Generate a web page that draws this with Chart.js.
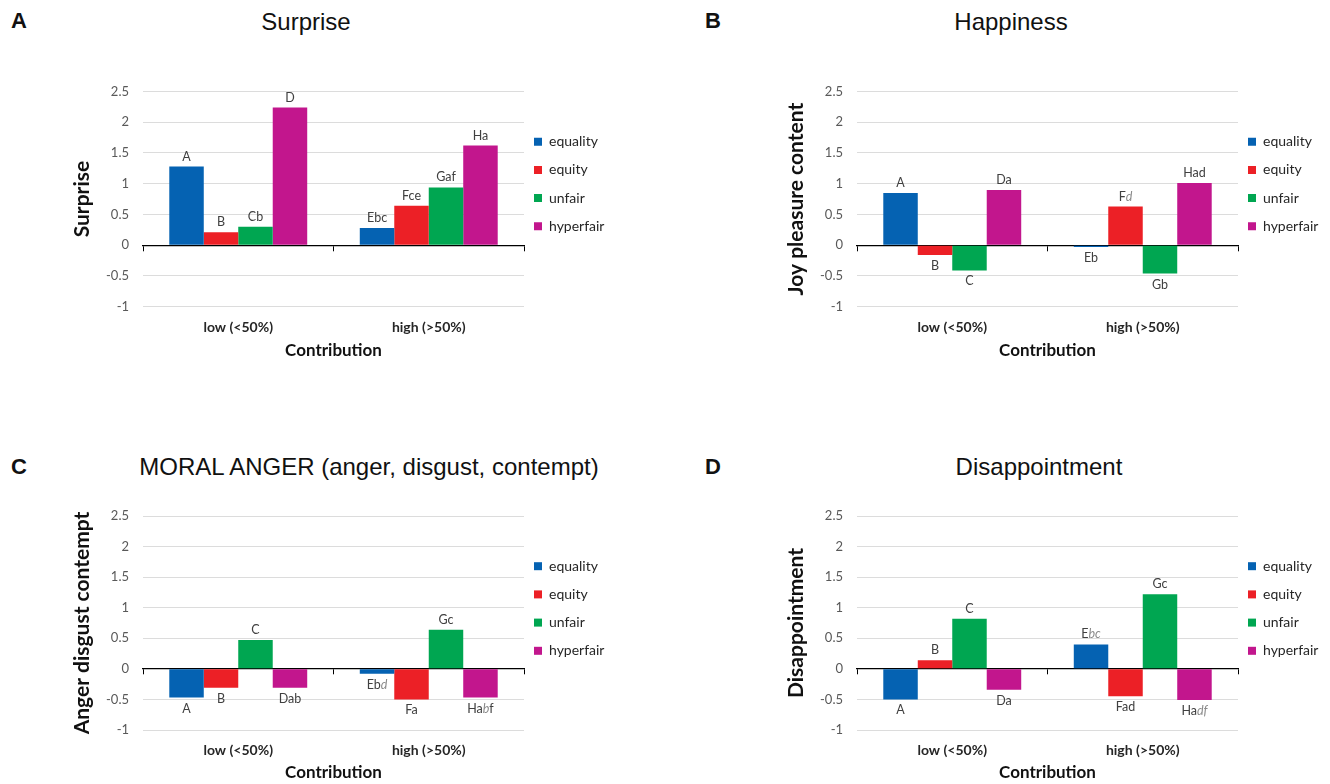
<!DOCTYPE html>
<html>
<head>
<meta charset="utf-8">
<title>Emotions by contribution and offer type</title>
<script src="https://cdn.jsdelivr.net/npm/chart.js@4.4.1/dist/chart.umd.min.js"></script>
<style>
  body { margin: 0; width: 1330px; height: 784px; overflow: hidden; background: #fff; position: relative; }
  canvas { position: absolute; }
  .letter { position: absolute; font: bold 22px 'Liberation Sans', Arial, sans-serif; line-height: 22px; color: #111; }
  .title { position: absolute; font: 24px 'Liberation Sans', Arial, sans-serif; line-height: 24px; color: #111;
           transform: translateX(-50%); white-space: nowrap; }
</style>
</head>
<body>
<div class="letter" style="left:11px;top:10px">A</div>
<div class="title" style="left:306px;top:9.5px">Surprise</div>
<div class="letter" style="left:705px;top:10px">B</div>
<div class="title" style="left:1011px;top:9.5px">Happiness</div>
<div class="letter" style="left:11px;top:456px">C</div>
<div class="title" style="left:369px;top:455px">MORAL ANGER (anger, disgust, contempt)</div>
<div class="letter" style="left:705px;top:456px">D</div>
<div class="title" style="left:1039px;top:455px">Disappointment</div>

<canvas id="surpriseChart" width="609" height="370" style="left:0;top:0"></canvas>
<canvas id="happinessChart" width="609" height="370" style="left:714px;top:0"></canvas>
<canvas id="angerChart" width="609" height="360" style="left:0;top:424px"></canvas>
<canvas id="disappointChart" width="609" height="360" style="left:714px;top:424px"></canvas>

<script>
// data
const categories = ['low (<50%)', 'high (>50%)'];
const seriesNames = ['equality', 'equity', 'unfair', 'hyperfair'];
const yMin = -1, yMax = 2.5, yStep = 0.5;

// one row per series: [low, high]
const surpriseValues = [[1.28, 0.28], [0.21, 0.64], [0.30, 0.94], [2.24, 1.62]];
const happinessValues = [[0.85, -0.03], [-0.16, 0.63], [-0.41, -0.46], [0.90, 1.01]];
const angerValues = [[-0.47, -0.08], [-0.31, -0.50], [0.47, 0.64], [-0.31, -0.47]];
const disappointValues = [[-0.50, 0.40], [0.14, -0.45], [0.82, 1.22], [-0.34, -0.51]];

// significance letters, text between _ is italic
const surpriseLetters = [['A', 'Ebc'], ['B', 'Fce'], ['Cb', 'Gaf'], ['D', 'Ha']];
const happinessLetters = [['A', 'Eb'], ['B', 'F_d_'], ['C', 'Gb'], ['Da', 'Had']];
const angerLetters = [['A', 'Eb_d_'], ['B', 'Fa'], ['C', 'Gc'], ['Dab', 'Ha_b_f']];
const disappointLetters = [['A', 'E_bc_'], ['B', 'Fad'], ['C', 'Gc'], ['Da', 'Ha_df_']];

const seriesColors = ['#0562b2', '#ec2026', '#00a651', '#c2168d'];

Chart.defaults.font.family = "Lato, 'Noto Sans', sans-serif";
Chart.defaults.color = '#404040';

// row geometry (canvas pixels)
const rows = {
  top:    { padTop: 91.5, axisH: 63.3, tickPad: 12, titlePad: 9.1 },
  bottom: { padTop: 92,   axisH: 54,   tickPad: 11.6, titlePad: 0.8 }
};

// draws the letters above / below each bar
const letterPlugin = {
  id: 'barLetters',
  afterDatasetsDraw(chart) {
    const ctx = chart.ctx;
    ctx.save();
    ctx.textBaseline = 'middle';
    ctx.textAlign = 'left';
    chart.data.datasets.forEach((ds, i) => {
      chart.getDatasetMeta(i).data.forEach((bar, j) => {
        const parts = ds.letters[j].split('_');
        const fonts = parts.map((p, k) => (k % 2 ? 'italic ' : '') + '12.5px Lato');
        let total = 0;
        parts.forEach((p, k) => { ctx.font = fonts[k]; total += ctx.measureText(p).width; });
        let x = bar.x - total / 2;
        const y = ds.data[j] >= 0 ? bar.y - 10 : bar.y + 11;
        parts.forEach((p, k) => {
          ctx.font = fonts[k];
          ctx.fillStyle = k % 2 ? '#8a8a8a' : '#404040';
          ctx.fillText(p, x, y);
          x += ctx.measureText(p).width;
        });
      });
    });
    ctx.restore();
  }
};

function makePanel(ctxId, yTitle, values, letters, geo) {
  const ctx = document.getElementById(ctxId).getContext('2d');
  new Chart(ctx, {
    type: 'bar',
    data: {
      labels: categories,
      datasets: seriesNames.map((name, i) => ({
        label: name,
        data: values[i],
        letters: letters[i],
        backgroundColor: seriesColors[i],
        borderWidth: 0,
        categoryPercentage: 0.724,
        barPercentage: 1
      }))
    },
    options: {
      responsive: false,
      animation: false,
      devicePixelRatio: 1,
      layout: { padding: { top: geo.padTop, left: 0, right: 0, bottom: 0 } },
      plugins: {
        tooltip: { enabled: false },
        legend: {
          position: 'right',
          align: 'start',
          fullSize: false,
          maxWidth: 85,
          title: { display: true, text: '', padding: { top: 0, bottom: 18.8 }, font: { size: 12, lineHeight: 1.2 } },
          labels: {
            boxWidth: 8,
            boxHeight: 8,
            padding: 10,
            color: '#262626',
            font: { size: 14, lineHeight: 1.3 },
            generateLabels: chart => Chart.defaults.plugins.legend.labels.generateLabels(chart)
              .map(l => Object.assign(l, { text: [l.text] }))
          }
        }
      },
      scales: {
        x: {
          grid: { display: false, drawTicks: false },
          border: { display: false },
          ticks: { padding: geo.tickPad, color: '#262626', font: { size: 14, weight: 'bold' } },
          title: { display: true, text: 'Contribution', color: '#111', font: { size: 17, weight: 'bold' },
                   padding: { top: 0, bottom: geo.titlePad } },
          afterFit: s => { s.height = geo.axisH; }
        },
        x2: {
          type: 'category',
          labels: categories,
          position: { y: 0 },
          offset: true,
          z: 1,
          grid: { offset: true, drawOnChartArea: false, drawTicks: true, tickLength: 5, color: '#000' },
          border: { color: '#000', width: 1.3 },
          ticks: { display: false }
        },
        y: {
          min: yMin,
          max: yMax,
          ticks: {
            stepSize: yStep, padding: 14, color: '#595959', font: { size: 13 },
            callback: v => String(Number(v.toFixed(1)))
          },
          grid: { color: '#dcdcdc', drawTicks: false },
          border: { display: false },
          title: { display: true, text: yTitle, color: '#111', font: { size: 21, weight: 'bold' },
                   padding: { top: 70, bottom: 0 } },
          afterFit: s => { s.width = 143; }
        }
      }
    },
    plugins: [letterPlugin]
  });
}

makePanel('surpriseChart', 'Surprise', surpriseValues, surpriseLetters, rows.top);
makePanel('happinessChart', 'Joy pleasure content', happinessValues, happinessLetters, rows.top);
makePanel('angerChart', 'Anger disgust contempt', angerValues, angerLetters, rows.bottom);
makePanel('disappointChart', 'Disappointment', disappointValues, disappointLetters, rows.bottom);
</script>
</body>
</html>
